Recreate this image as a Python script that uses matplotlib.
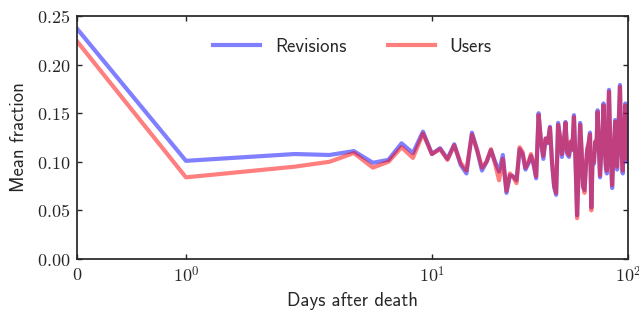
import matplotlib
matplotlib.use("Agg")
import matplotlib.pyplot as plt
from matplotlib.ticker import FixedLocator, FixedFormatter

plt.rcParams['mathtext.fontset'] = 'cm'

days = list(range(0, 101))

revisions = [
    0.237, 0.101, 0.108, 0.107, 0.111, 0.099, 0.102, 0.119, 0.109, 0.131,
    0.108, 0.114, 0.103, 0.118, 0.097, 0.088, 0.130, 0.112, 0.091, 0.100,
    0.112, 0.100, 0.090, 0.107, 0.068, 0.086, 0.085, 0.081, 0.113, 0.108,
    0.092, 0.098, 0.106, 0.097, 0.083, 0.150, 0.120, 0.103, 0.124, 0.119,
    0.136, 0.098, 0.074, 0.066, 0.140, 0.125, 0.105, 0.118, 0.141, 0.108,
    0.105, 0.120, 0.112, 0.148, 0.100, 0.045, 0.090, 0.140, 0.110, 0.074,
    0.071, 0.095, 0.112, 0.118, 0.130, 0.053, 0.105, 0.098, 0.120, 0.112,
    0.153, 0.115, 0.084, 0.110, 0.125, 0.160, 0.118, 0.095, 0.088, 0.130,
    0.174, 0.125, 0.098, 0.073, 0.102, 0.118, 0.143, 0.110, 0.092, 0.125,
    0.150, 0.179, 0.128, 0.105, 0.088, 0.115, 0.138, 0.160, 0.120, 0.100,
    0.136,
]

users = [
    0.224, 0.084, 0.095, 0.100, 0.109, 0.094, 0.100, 0.115, 0.104, 0.129,
    0.108, 0.113, 0.102, 0.117, 0.099, 0.091, 0.128, 0.112, 0.094, 0.100,
    0.113, 0.098, 0.081, 0.103, 0.070, 0.088, 0.084, 0.078, 0.115, 0.110,
    0.094, 0.099, 0.108, 0.099, 0.085, 0.148, 0.122, 0.106, 0.124, 0.120,
    0.135, 0.100, 0.076, 0.068, 0.138, 0.126, 0.108, 0.119, 0.140, 0.110,
    0.107, 0.121, 0.113, 0.146, 0.102, 0.042, 0.092, 0.138, 0.112, 0.076,
    0.068, 0.097, 0.114, 0.120, 0.128, 0.050, 0.108, 0.100, 0.121, 0.114,
    0.151, 0.117, 0.086, 0.112, 0.126, 0.158, 0.120, 0.098, 0.091, 0.131,
    0.172, 0.127, 0.101, 0.076, 0.104, 0.120, 0.141, 0.113, 0.095, 0.126,
    0.148, 0.177, 0.130, 0.108, 0.091, 0.117, 0.137, 0.158, 0.122, 0.103,
    0.138,
]

xtick_vals = [0, 1, 10, 100]
xtick_labels = [r'$0$', r'$10^{0}$', r'$10^{1}$', r'$10^{2}$']
ytick_vals = [0.0, 0.05, 0.10, 0.15, 0.20, 0.25]
ytick_labels = [r'$0.00$', r'$0.05$', r'$0.10$', r'$0.15$', r'$0.20$', r'$0.25$']

fig = plt.figure(figsize=(6.39, 3.13), dpi=100)
ax = fig.add_axes([77/639, 1-259/313, (628-77)/639, (259-16)/313])

ax.plot(days, revisions, color='b', alpha=0.5, lw=3, label='Revisions')
ax.plot(days, users, color='r', alpha=0.5, lw=3, label='Users')

ax.set_xscale('symlog', linthresh=2, linscale=1)
ax.set_xlim(0, 100)
ax.set_ylim(0, 0.25)

ax.xaxis.set_major_locator(FixedLocator(xtick_vals))
ax.xaxis.set_major_formatter(FixedFormatter(xtick_labels))
ax.xaxis.set_minor_locator(FixedLocator([]))
ax.yaxis.set_major_locator(FixedLocator(ytick_vals))
ax.yaxis.set_major_formatter(FixedFormatter(ytick_labels))

for s in ax.spines.values():
    s.set_color('#262626')
    s.set_linewidth(1.25)

ax.tick_params(axis='both', which='major', direction='in', length=3.5, width=1,
               color='#262626', labelsize=13, labelcolor='#262626',
               top=True, right=True, pad=5)

lab_font = dict(family='cmss10', size=13.5, color='#262626')
ax.set_xlabel('Days after death', fontdict=lab_font, labelpad=4)
ax.set_ylabel('Mean fraction', fontdict=lab_font, labelpad=6)

leg = ax.legend(loc='upper center', ncol=2, frameon=False, handlelength=2.5,
                handletextpad=0.8, columnspacing=2.2,
                prop={'family': 'cmss10', 'size': 13.5},
                bbox_to_anchor=(0.5, 0.98))
for t in leg.get_texts():
    t.set_color('#262626')

fig.savefig('out.png', dpi=100)
